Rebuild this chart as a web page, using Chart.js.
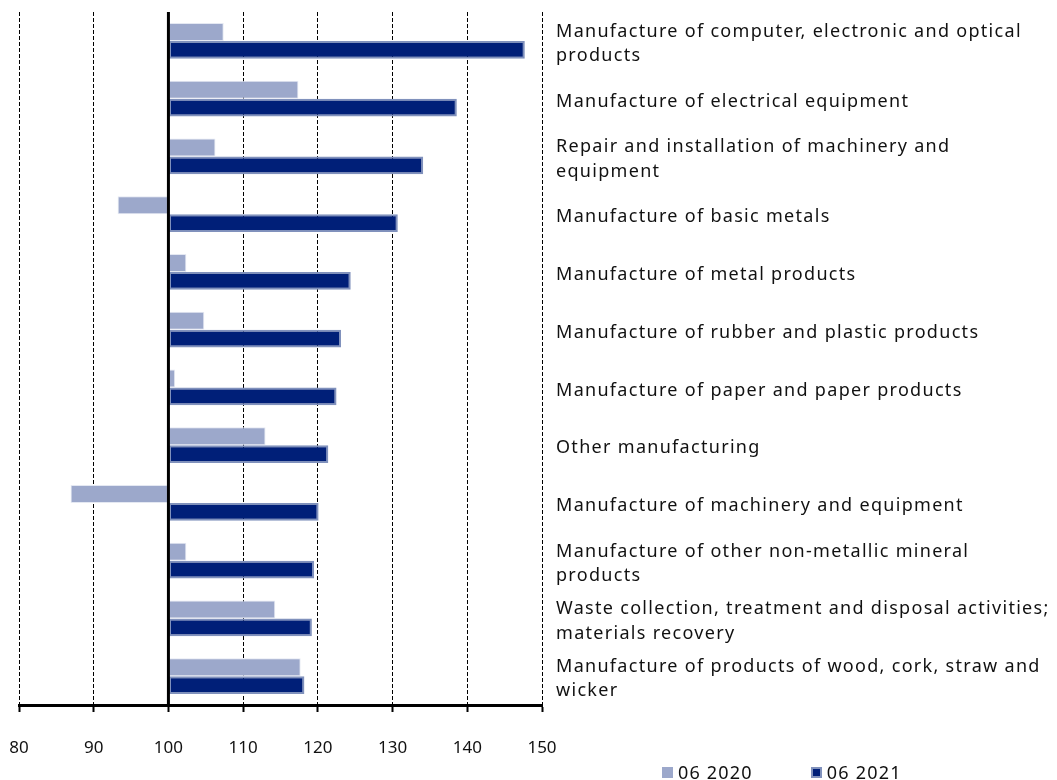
<!DOCTYPE html>
<html>
<head>
<meta charset="utf-8">
<script src="https://cdn.jsdelivr.net/npm/chart.js@4.4.0/dist/chart.umd.min.js"></script>
<style>
  html, body { margin: 0; padding: 0; background: #fff; }
  #wrap { position: relative; width: 1057px; height: 780px; overflow: hidden; }
  #legend { position: absolute; left: 662px; top: 762px; display: flex; font: 18px "Noto Sans", sans-serif; letter-spacing: 1.2px; color: #111; line-height: 20px; white-space: nowrap; }
  #legend .item { display: flex; align-items: center; margin-right: 58px; }
  #legend .box { width: 11px; height: 11px; margin-right: 5px; box-sizing: border-box; }
</style>
</head>
<body>
<div id="wrap">
  <canvas id="chart" width="1057" height="780"></canvas>
  <div id="legend"></div>
</div>
<script>
// Categorías (de arriba hacia abajo)
const categories = [
  ["Manufacture of computer, electronic and optical", "products"],
  "Manufacture of electrical equipment",
  ["Repair and installation of machinery and", "equipment"],
  "Manufacture of basic metals",
  "Manufacture of metal products",
  "Manufacture of rubber and plastic products",
  "Manufacture of paper and paper products",
  "Other manufacturing",
  "Manufacture of machinery and equipment",
  ["Manufacture of other non-metallic mineral", "products"],
  ["Waste collection, treatment and disposal activities;", "materials recovery"],
  ["Manufacture of products of wood, cork, straw and", "wicker"],
];

const series2020 = [107.4, 117.4, 106.3, 93.2, 102.4, 104.8, 100.9, 113.0, 86.9, 102.4, 114.3, 117.7];
const series2021 = [147.7, 138.6, 134.1, 130.7, 124.4, 123.1, 122.5, 121.4, 120.1, 119.5, 119.2, 118.2];
const seriesLabels = ["06 2020", "06 2021"];

const xTicks = [80, 90, 100, 110, 120, 130, 140, 150];
const baseValue = 100;

// Línea vertical en 100 + espaciado de letras para las etiquetas de la derecha
const baseLine = {
  id: "baseLine",
  afterDatasetsDraw(chart) {
    const ctx = chart.ctx;
    const x = chart.scales.x.getPixelForValue(baseValue);
    const area = chart.chartArea;
    ctx.save();
    ctx.strokeStyle = "#000";
    ctx.lineWidth = 3;
    ctx.beginPath();
    ctx.moveTo(x, area.top);
    ctx.lineTo(x, area.bottom);
    ctx.stroke();
    ctx.restore();
    ctx.letterSpacing = "1.3px";
  },
  afterDraw(chart) {
    chart.ctx.letterSpacing = "0px";
  },
};

// Quitar el relleno automático de las escalas
function noPadding(scale) {
  scale.paddingTop = 0;
  scale.paddingBottom = 0;
  scale.paddingLeft = 0;
  scale.paddingRight = 0;
}

const ctx = document.getElementById("chart").getContext("2d");
const chart = new Chart(ctx, {
  type: "bar",
  data: {
    labels: categories,
    datasets: [
      {
        label: seriesLabels[0],
        data: series2020,
        base: baseValue,
        backgroundColor: "#9CA8CB",
        borderColor: "#E4E8F2",
        borderWidth: 1,
        borderSkipped: false,
      },
      {
        label: seriesLabels[1],
        data: series2021,
        base: baseValue,
        backgroundColor: "#001F78",
        borderColor: "#8091BC",
        borderWidth: 2,
        borderSkipped: false,
      },
    ],
  },
  options: {
    indexAxis: "y",
    responsive: false,
    animation: false,
    layout: {
      padding: { left: 19, top: 12, right: 0, bottom: 22 },
    },
    datasets: {
      bar: { categoryPercentage: 0.62, barPercentage: 1.0 },
    },
    scales: {
      x: {
        type: "linear",
        min: xTicks[0],
        max: xTicks[xTicks.length - 1],
        afterBuildTicks: (scale) => {
          scale.ticks = xTicks.map((v) => ({ value: v }));
        },
        afterFit: (scale) => {
          scale.height = 53;
          noPadding(scale);
        },
        grid: {
          color: (c) => (c.tick && c.tick.value === baseValue ? "rgba(0,0,0,0)" : "#000"),
          lineWidth: 1,
          drawTicks: true,
          tickLength: 7,
          tickColor: "#000",
          tickWidth: 2,
        },
        border: { display: true, color: "#000", width: 3, dash: [4, 2] },
        ticks: {
          padding: 26,
          color: "#111",
          font: { family: "Noto Sans", size: 17 },
        },
      },
      y: {
        position: "right",
        grid: { display: false, drawTicks: false },
        border: { display: false },
        afterFit: (scale) => {
          scale.width = 515;
          noPadding(scale);
        },
        ticks: {
          z: 1,
          padding: 14,
          labelOffset: 3,
          color: "#111",
          font: { family: "Noto Sans", size: 18, lineHeight: 1.34 },
        },
      },
    },
    plugins: {
      legend: { display: false },
      tooltip: { enabled: false },
    },
  },
  plugins: [baseLine],
});

// Leyenda en HTML
const legendEl = document.getElementById("legend");
chart.data.datasets.forEach((ds) => {
  const item = document.createElement("div");
  item.className = "item";
  const box = document.createElement("span");
  box.className = "box";
  box.style.background = ds.backgroundColor;
  box.style.border = ds.borderWidth > 1 ? "2px solid " + ds.borderColor : "none";
  const txt = document.createElement("span");
  txt.textContent = ds.label;
  item.appendChild(box);
  item.appendChild(txt);
  legendEl.appendChild(item);
});
</script>
</body>
</html>
